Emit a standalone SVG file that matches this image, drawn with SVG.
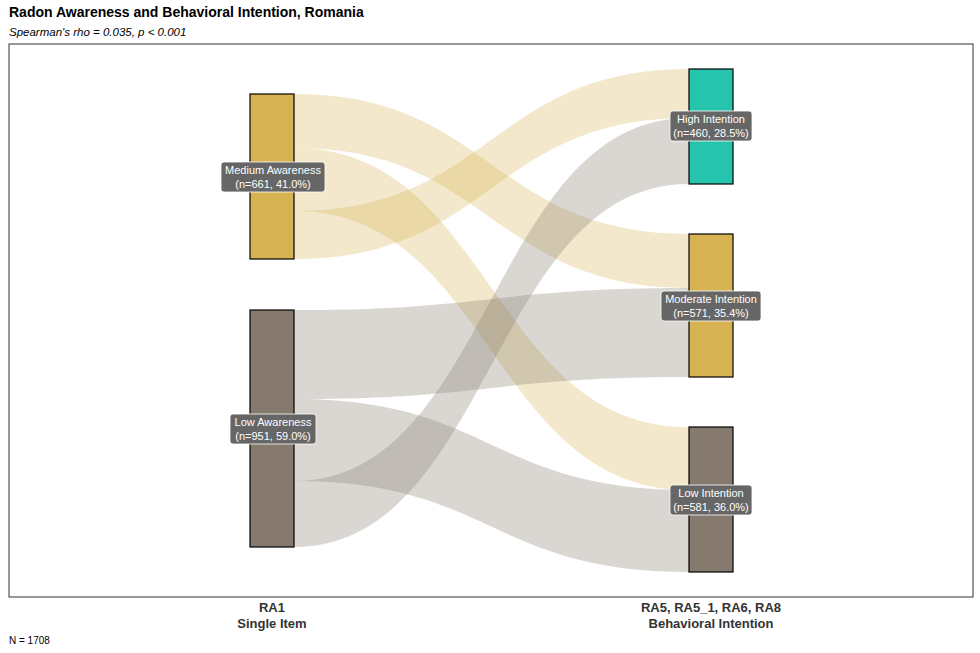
<svg xmlns="http://www.w3.org/2000/svg" width="980" height="653" viewBox="0 0 980 653">
<style>
text{font-family:"Liberation Sans",Arial,sans-serif}
.fy{fill:#D6B252;opacity:0.3}
.fg{fill:#857A6D;opacity:0.3}
.n{stroke:#000;stroke-width:1.2}
.lb{fill:#666;stroke:#fff;stroke-width:0.8}
.lt{fill:#fff;font-size:11px;text-anchor:middle}
.ax{font-size:13px;font-weight:bold;text-anchor:middle;fill:#333}
</style>
<rect width="980" height="653" fill="#fff"/>
<text x="9" y="17" font-size="14" font-weight="bold">Radon Awareness and Behavioral Intention, Romania</text>
<text x="9" y="36" font-size="11.5" font-style="italic">Spearman's rho = 0.035, p &lt; 0.001</text>
<rect x="9" y="44" width="964" height="553" fill="none" stroke="#333" stroke-width="1"/>
<g id="connectors">
<path class="fy" d="M294,94 C491,94 491,234 689,234 L689,288 C491,288 491,148 294,148Z"/>
<path class="fy" d="M294,148 C491,148 491,427 689,427 L689,490 C491,490 491,211 294,211Z"/>
<path class="fy" d="M294,211 C491,211 491,69 689,69 L689,118 C491,118 491,259 294,259Z"/>
<path class="fg" d="M294,310 C491,310 491,288 689,288 L689,377 C491,377 491,399 294,399Z"/>
<path class="fg" d="M294,399 C491,399 491,490 689,490 L689,572 C491,572 491,481 294,481Z"/>
<path class="fg" d="M294,481 C491,481 491,118 689,118 L689,184 C491,184 491,547 294,547Z"/>
</g>
<g id="medium-awareness">
<rect class="n" x="250" y="94" width="44" height="165" fill="#D6B252"/>
<rect class="lb" x="221" y="162" width="104" height="30" rx="3"/>
<text class="lt" x="273" y="174">Medium Awareness</text>
<text class="lt" x="273" y="188">(n=661, 41.0%)</text>
</g>
<g id="low-awareness">
<rect class="n" x="250" y="310" width="44" height="237" fill="#857A6D"/>
<rect class="lb" x="230" y="414" width="86" height="30" rx="3"/>
<text class="lt" x="273" y="426">Low Awareness</text>
<text class="lt" x="273" y="440">(n=951, 59.0%)</text>
</g>
<g id="high-intention">
<rect class="n" x="689" y="69" width="44" height="115" fill="#26C4AC"/>
<rect class="lb" x="670" y="111" width="82" height="30" rx="3"/>
<text class="lt" x="711" y="123">High Intention</text>
<text class="lt" x="711" y="137">(n=460, 28.5%)</text>
</g>
<g id="moderate-intention">
<rect class="n" x="689" y="234" width="44" height="143" fill="#D6B252"/>
<rect class="lb" x="661" y="291" width="100" height="30" rx="3"/>
<text class="lt" x="711" y="303">Moderate Intention</text>
<text class="lt" x="711" y="317">(n=571, 35.4%)</text>
</g>
<g id="low-intention">
<rect class="n" x="689" y="427" width="44" height="145" fill="#857A6D"/>
<rect class="lb" x="670" y="485" width="82" height="30" rx="3"/>
<text class="lt" x="711" y="497">Low Intention</text>
<text class="lt" x="711" y="511">(n=581, 36.0%)</text>
</g>
<text class="ax" x="272" y="612">RA1</text>
<text class="ax" x="272" y="628">Single Item</text>
<text class="ax" x="711" y="612">RA5, RA5_1, RA6, RA8</text>
<text class="ax" x="711" y="628">Behavioral Intention</text>
<text x="9" y="644" font-size="10">N = 1708</text>
</svg>
